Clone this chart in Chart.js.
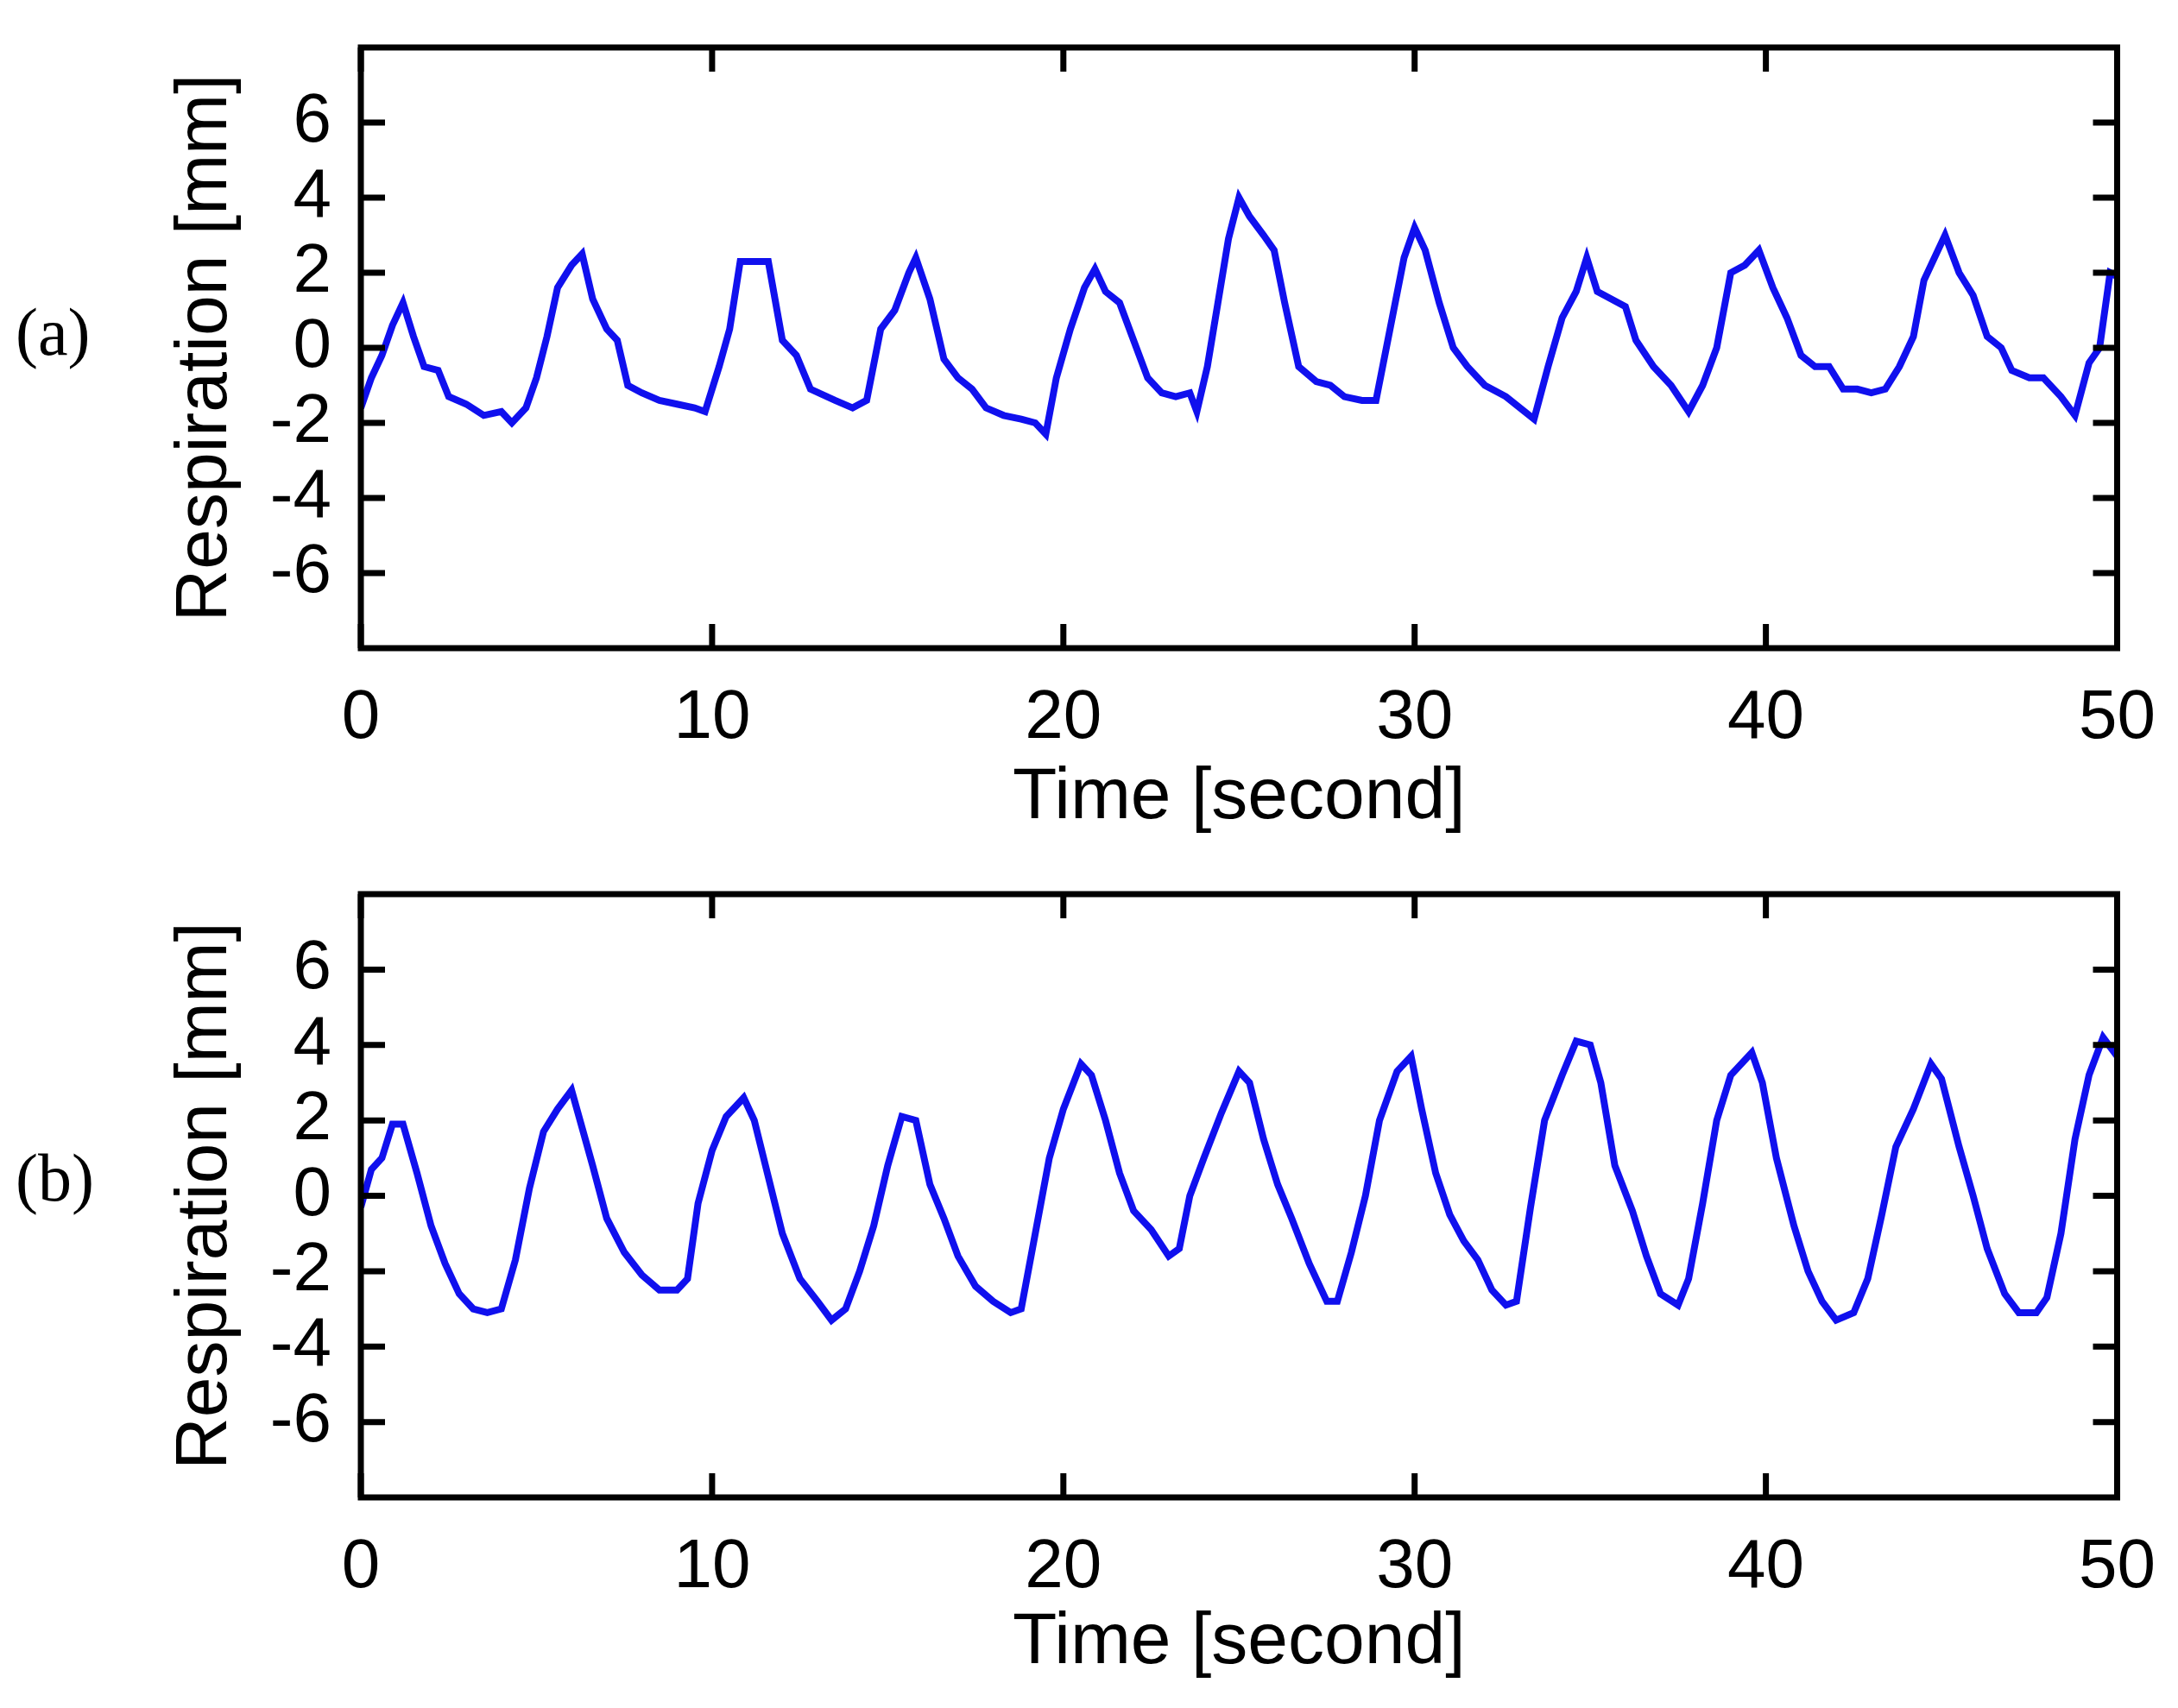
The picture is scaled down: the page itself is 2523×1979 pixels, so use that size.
<!DOCTYPE html>
<html>
<head>
<meta charset="utf-8">
<script src="https://cdn.jsdelivr.net/npm/chart.js@4"></script>
<style>
  body { margin: 0; background: #fff; width: 2523px; height: 1979px; position: relative; overflow: hidden; }
  .box { position: absolute; left: 0; width: 2523px; }
  .tag { position: absolute; left: 18px; font-family: "Liberation Serif", serif; font-size: 78px; color: #000; }
</style>
</head>
<body>
<div class="box" style="top:-19px;height:1019px"><canvas id="chartA"></canvas></div>
<div class="box" style="top:962px;height:1017px"><canvas id="chartB"></canvas></div>
<div class="tag" style="top:340px">(a)</div>
<div class="tag" style="top:1320px">(b)</div>
<script>
// respiration (a), [time s, mm]
const timeA = [0,0.3,0.6,0.9,1.2,1.5,1.8,2.2,2.5,3,3.5,4,4.3,4.7,5,5.3,5.6,6,6.3,6.6,7,7.3,7.6,8,8.5,9,9.5,9.8,10.2,10.5,10.8,11.2,11.6,12,12.4,12.8,13.5,14,14.4,14.8,15.2,15.6,15.8,16.2,16.6,17,17.4,17.8,18.3,18.8,19.2,19.5,19.8,20.2,20.6,20.9,21.2,21.6,22,22.4,22.8,23.2,23.6,23.8,24.1,24.4,24.7,25,25.3,25.7,26,26.3,26.7,27.2,27.6,28,28.5,28.9,29.3,29.7,30,30.3,30.7,31.1,31.5,32,32.6,33,33.4,33.8,34.2,34.6,34.9,35.2,35.6,36,36.3,36.8,37.3,37.8,38.2,38.6,39,39.4,39.8,40.2,40.6,41,41.4,41.8,42.2,42.6,43,43.4,43.8,44.2,44.5,44.9,45.1,45.5,45.9,46.3,46.7,47,47.5,47.9,48.4,48.8,49.2,49.5,49.8,50];
const respA = [-1.6,-0.8,-0.2,0.6,1.2,0.3,-0.5,-0.6,-1.3,-1.5,-1.8,-1.7,-2.0,-1.6,-0.8,0.3,1.6,2.2,2.5,1.3,0.5,0.2,-1.0,-1.2,-1.4,-1.5,-1.6,-1.7,-0.5,0.5,2.3,2.3,2.3,0.2,-0.2,-1.1,-1.4,-1.6,-1.4,0.5,1.0,2.0,2.4,1.3,-0.3,-0.8,-1.1,-1.6,-1.8,-1.9,-2.0,-2.3,-0.8,0.5,1.6,2.1,1.5,1.2,0.2,-0.8,-1.2,-1.3,-1.2,-1.7,-0.5,1.2,2.9,4.0,3.5,3.0,2.6,1.2,-0.5,-0.9,-1.0,-1.3,-1.4,-1.4,0.5,2.4,3.2,2.6,1.2,0.0,-0.5,-1.0,-1.3,-1.6,-1.9,-0.5,0.8,1.5,2.4,1.5,1.3,1.1,0.2,-0.5,-1.0,-1.7,-1.0,0.0,2.0,2.2,2.6,1.6,0.8,-0.2,-0.5,-0.5,-1.1,-1.1,-1.2,-1.1,-0.5,0.3,1.8,2.6,3.0,2.0,1.4,0.3,0.0,-0.6,-0.8,-0.8,-1.3,-1.8,-0.4,0.0,2.0,1.9];

// respiration (b)
const timeB = [0,0.3,0.6,0.9,1.2,1.6,2,2.4,2.8,3.2,3.6,4,4.4,4.8,5.2,5.6,6,6.3,6.6,7,7.5,8,8.5,9,9.3,9.6,10,10.4,10.9,11.2,11.6,12,12.5,13,13.4,13.8,14.2,14.6,15,15.4,15.8,16.2,16.6,17,17.5,18,18.5,18.8,19.2,19.6,20,20.5,20.8,21.2,21.6,22,22.5,23,23.3,23.6,24,24.5,25,25.3,25.7,26.1,26.5,27,27.5,27.8,28.2,28.6,29,29.5,29.9,30.2,30.6,31,31.4,31.8,32.2,32.6,32.9,33.3,33.7,34.2,34.6,35,35.3,35.7,36.2,36.6,37,37.5,37.8,38.2,38.6,39,39.6,39.9,40.3,40.8,41.2,41.6,42,42.5,42.9,43.3,43.7,44.2,44.7,45,45.5,45.9,46.3,46.8,47.2,47.7,48,48.4,48.8,49.2,49.6,50];
const respB = [-0.3,0.7,1.0,1.9,1.9,0.6,-0.8,-1.8,-2.6,-3.0,-3.1,-3.0,-1.7,0.2,1.7,2.3,2.8,1.8,0.8,-0.6,-1.5,-2.1,-2.5,-2.5,-2.2,-0.2,1.2,2.1,2.6,2.0,0.5,-1.0,-2.2,-2.8,-3.3,-3.0,-2.0,-0.8,0.8,2.1,2.0,0.3,-0.6,-1.6,-2.4,-2.8,-3.1,-3.0,-1.0,1.0,2.3,3.5,3.2,2.0,0.6,-0.4,-0.9,-1.6,-1.4,0.0,1.0,2.2,3.3,3.0,1.5,0.3,-0.6,-1.8,-2.8,-2.8,-1.5,0.0,2.0,3.3,3.7,2.3,0.6,-0.5,-1.2,-1.7,-2.5,-2.9,-2.8,-0.3,2.0,3.2,4.1,4.0,3.0,0.8,-0.4,-1.6,-2.6,-2.9,-2.2,-0.2,2.0,3.2,3.8,3.0,1.0,-0.8,-2.0,-2.8,-3.3,-3.1,-2.2,-0.5,1.3,2.3,3.5,3.1,1.3,0.0,-1.4,-2.6,-3.1,-3.1,-2.7,-1.0,1.5,3.2,4.2,3.7];

const xTicks = [0, 10, 20, 30, 40, 50];
const yTicks = [-6, -4, -2, 0, 2, 4, 6];

const FONT = 'Liberation Sans, Arial, sans-serif';

// frame with inward ticks on all four sides, like the matlab axes
const framePlugin = {
  id: 'frame',
  afterDraw(chart) {
    const { ctx, chartArea: a, scales } = chart;
    ctx.save();
    ctx.strokeStyle = '#000';
    ctx.lineWidth = 7;
    ctx.strokeRect(a.left, a.top, a.right - a.left, a.bottom - a.top);
    const len = 28;
    ctx.beginPath();
    xTicks.forEach(v => {
      const x = scales.x.getPixelForValue(v);
      ctx.moveTo(x, a.bottom); ctx.lineTo(x, a.bottom - len);
      ctx.moveTo(x, a.top); ctx.lineTo(x, a.top + len);
    });
    yTicks.forEach(v => {
      const y = scales.y.getPixelForValue(v);
      ctx.moveTo(a.left, y); ctx.lineTo(a.left + len, y);
      ctx.moveTo(a.right, y); ctx.lineTo(a.right - len, y);
    });
    ctx.stroke();
    ctx.restore();
  }
};

function makeChart(id, times, values, xHeight, titlePad) {
  const pts = times.map((t, i) => ({ x: t, y: values[i] }));
  new Chart(document.getElementById(id), {
    type: 'line',
    data: {
      datasets: [{
        data: pts,
        borderColor: '#1010ee',
        borderWidth: 8,
        pointRadius: 0,
        tension: 0
      }]
    },
    options: {
      responsive: true,
      maintainAspectRatio: false,
      animation: false,
      layout: { padding: { top: 0, right: 66, left: 0, bottom: 0 } },
      plugins: { legend: { display: false }, tooltip: { enabled: false } },
      scales: {
        x: {
          type: 'linear', min: 0, max: 50,
          afterBuildTicks: s => { s.ticks = xTicks.map(v => ({ value: v })); },
          afterFit: s => { s.height = xHeight; },
          grid: { display: false },
          border: { display: false },
          ticks: { color: '#000', font: { family: FONT, size: 80 }, padding: 26, maxRotation: 0 },
          title: { display: true, text: 'Time [second]', color: '#000', font: { family: FONT, size: 84 }, padding: { top: 0, bottom: 25 } }
        },
        y: {
          min: -8, max: 8,
          afterBuildTicks: s => { s.ticks = yTicks.map(v => ({ value: v })); },
          afterFit: s => { s.width = 418; },
          grid: { display: false },
          border: { display: false },
          ticks: { color: '#000', font: { family: FONT, size: 80 }, padding: 26 },
          title: { display: true, text: 'Respiration [mm]', color: '#000', font: { family: FONT, size: 84 }, padding: { top: 188, bottom: 0 } }
        }
      }
    },
    plugins: [framePlugin]
  });
}

makeChart('chartA', timeA, respA, 249);
makeChart('chartB', timeB, respB, 244);
</script>
</body>
</html>
